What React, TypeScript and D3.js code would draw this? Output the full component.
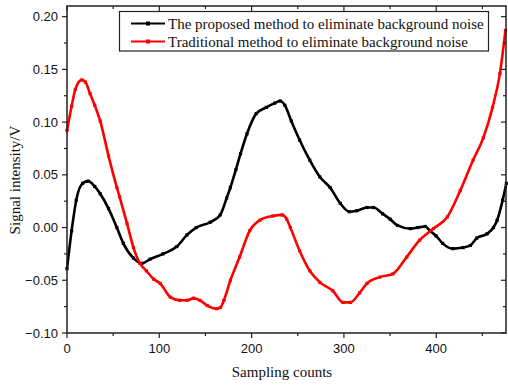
import React from 'react';
import * as d3 from 'd3';

// proposed method (black)
const blackX = [0, 5, 10, 17, 23, 30, 36, 45, 54, 61, 72, 81, 90, 104, 119, 130, 140, 155, 166, 173, 177, 183, 188, 195, 205, 216, 225, 231, 236, 243, 252, 263, 274, 285, 296, 306, 314, 325, 332, 342, 350, 358, 372, 380, 388, 393, 400, 407, 418, 429, 437, 444, 455, 462, 466, 472, 476];
const blackY = [-0.039, -0.003, 0.026, 0.042, 0.044, 0.039, 0.032, 0.018, 0.0, -0.015, -0.029, -0.034, -0.030, -0.025, -0.018, -0.007, 0.0, 0.005, 0.012, 0.028, 0.038, 0.055, 0.070, 0.089, 0.108, 0.114, 0.118, 0.120, 0.116, 0.101, 0.083, 0.064, 0.048, 0.038, 0.023, 0.015, 0.016, 0.019, 0.019, 0.013, 0.008, 0.002, -0.001, 0.0, 0.001, -0.003, -0.008, -0.015, -0.020, -0.019, -0.017, -0.010, -0.006, 0.0, 0.007, 0.026, 0.042];

// traditional method (red)
const redX = [0, 5, 9, 16, 20, 25, 30, 36, 45, 54, 57, 65, 72, 79, 86, 94, 101, 112, 122, 130, 137, 144, 152, 162, 166, 170, 177, 187, 198, 209, 223, 233, 238, 242, 252, 263, 274, 288, 299, 307, 317, 325, 339, 353, 368, 382, 397, 412, 426, 440, 451, 461, 469, 475];
const redY = [0.092, 0.115, 0.131, 0.140, 0.138, 0.127, 0.116, 0.101, 0.068, 0.038, 0.029, 0.004, -0.019, -0.034, -0.041, -0.049, -0.053, -0.066, -0.069, -0.069, -0.067, -0.069, -0.074, -0.077, -0.076, -0.069, -0.050, -0.028, -0.003, 0.007, 0.011, 0.012, 0.008, 0.0, -0.022, -0.041, -0.052, -0.060, -0.071, -0.071, -0.062, -0.053, -0.047, -0.044, -0.028, -0.012, -0.001, 0.010, 0.035, 0.064, 0.085, 0.114, 0.146, 0.187];

const xTicks = [0, 100, 200, 300, 400];
const xMinor = [50, 150, 250, 350, 450];
const yTicks = [-0.10, -0.05, 0.0, 0.05, 0.10, 0.15, 0.20];
const yMinor = [-0.075, -0.025, 0.025, 0.075, 0.125, 0.175];
const legendLabels = ['The proposed method to eliminate background noise', 'Traditional method to eliminate background noise'];

const W = 508, H = 386;
const L = 67, R = 506, T = 6, B = 333;

export default function App() {
  const x = d3.scaleLinear().domain([0, 475.6]).range([L, R]);
  const y = d3.scaleLinear().domain([-0.10, 0.2101]).range([B, T]);

  const series = [
    { xs: blackX, ys: blackY, color: '#000' },
    { xs: redX, ys: redY, color: '#ff0000' },
  ];
  const line = d3.line<[number, number]>()
    .x(d => x(d[0]))
    .y(d => y(d[1]))
    .curve(d3.curveMonotoneX);

  const axisColor = '#222';
  const tickFont = 'Liberation Sans, Arial, sans-serif';
  const serif = 'Liberation Serif, Times New Roman, serif';

  return (
    <svg width={W} height={H} style={{ position: 'absolute', left: 0, top: 0, background: '#fff' }}>
      {/* data */}
      {series.map((s, i) => {
        const pts = s.xs.map((v, j) => [v, s.ys[j]] as [number, number]);
        return (
          <g key={i}>
            <path d={line(pts) || ''} fill="none" stroke={s.color} strokeWidth={2.6} strokeLinejoin="round" />
            {pts.map((p, j) => (
              <rect key={j} x={x(p[0]) - 1.6} y={y(p[1]) - 1.6} width={3.2} height={3.2} fill={s.color} />
            ))}
          </g>
        );
      })}

      {/* frame */}
      <rect x={L} y={T} width={R - L} height={B - T} fill="none" stroke={axisColor} strokeWidth={1.5} />

      {/* x ticks */}
      {xTicks.map(t => (
        <g key={'x' + t}>
          <line x1={x(t)} x2={x(t)} y1={B} y2={B + 5} stroke={axisColor} strokeWidth={1.2} />
          <line x1={x(t)} x2={x(t)} y1={T} y2={T + 5} stroke={axisColor} strokeWidth={1.2} />
          <text x={x(t)} y={B + 20} textAnchor="middle" fontFamily={tickFont} fontSize={13} fill="#111">{t}</text>
        </g>
      ))}
      {xMinor.map(t => (
        <g key={'xm' + t}>
          <line x1={x(t)} x2={x(t)} y1={B} y2={B + 3} stroke={axisColor} strokeWidth={1.2} />
          <line x1={x(t)} x2={x(t)} y1={T} y2={T + 3} stroke={axisColor} strokeWidth={1.2} />
        </g>
      ))}

      {/* y ticks */}
      {yTicks.map(t => (
        <g key={'y' + t}>
          <line x1={L - 5} x2={L} y1={y(t)} y2={y(t)} stroke={axisColor} strokeWidth={1.2} />
          <line x1={R - 5} x2={R} y1={y(t)} y2={y(t)} stroke={axisColor} strokeWidth={1.2} />
          <text x={L - 9} y={y(t) + 4.5} textAnchor="end" fontFamily={tickFont} fontSize={13} fill="#111">{d3.format('.2f')(t)}</text>
        </g>
      ))}
      {yMinor.map(t => (
        <g key={'ym' + t}>
          <line x1={L - 3} x2={L} y1={y(t)} y2={y(t)} stroke={axisColor} strokeWidth={1.2} />
          <line x1={R - 3} x2={R} y1={y(t)} y2={y(t)} stroke={axisColor} strokeWidth={1.2} />
        </g>
      ))}

      {/* axis titles */}
      <text x={282} y={377} textAnchor="middle" fontFamily={serif} fontSize={15} fill="#111">Sampling counts</text>
      <text transform="translate(20,180) rotate(-90)" textAnchor="middle" fontFamily={serif} fontSize={15} fill="#111">Signal intensity/V</text>

      {/* legend */}
      <rect x={119.5} y={11.5} width={369} height={39.5} fill="#fff" stroke={axisColor} strokeWidth={1.2} />
      {legendLabels.map((lab, i) => {
        const ly = 23.5 + i * 18;
        const c = series[i].color;
        return (
          <g key={lab}>
            <line x1={131} x2={165} y1={ly} y2={ly} stroke={c} strokeWidth={2} />
            <rect x={146} y={ly - 2} width={4} height={4} fill={c} />
            <text x={168} y={ly + 5} fontFamily={serif} fontSize={15} fill="#111">{lab}</text>
          </g>
        );
      })}
    </svg>
  );
}
